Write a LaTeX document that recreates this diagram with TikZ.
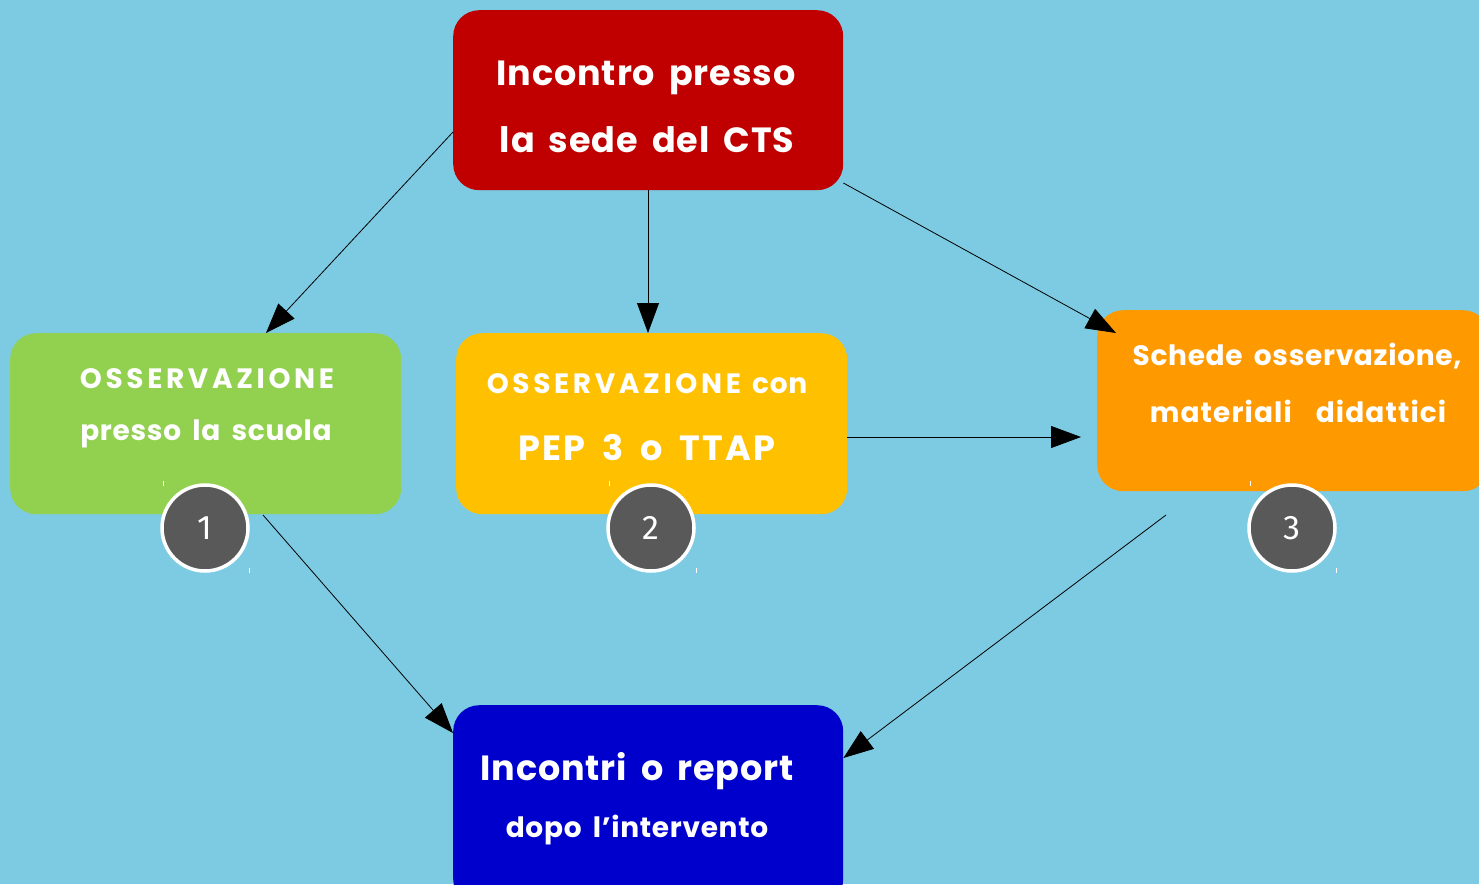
\documentclass[tikz,border=0pt]{standalone}
\usepackage{fontspec}
\setmainfont{Poppins}[LetterSpace=2.5, WordSpace=1.7]
\newfontfamily\numfont{Fira Sans}
\usetikzlibrary{arrows.meta,calc}
\definecolor{bg}{HTML}{7DCBE3}
\definecolor{cred}{HTML}{C00000}
\definecolor{cgreen}{HTML}{92D050}
\definecolor{cyellow}{HTML}{FFC000}
\definecolor{corange}{HTML}{FF9900}
\definecolor{cblue}{HTML}{0000CC}
\definecolor{cgray}{HTML}{595959}
\newcommand{\widecaps}[1]{{\addfontfeature{LetterSpace=13}#1}}
\tikzset{
  box/.style={rounded corners=26pt, draw=none, minimum width=#1, anchor=north west, inner sep=0pt},
  txt/.style={text=white, inner sep=0pt, anchor=base},
  big/.style={font=\fontsize{35}{40}\selectfont\bfseries},
  small/.style={font=\fontsize{28}{32}\selectfont\bfseries},
  badge/.style={circle, fill=cgray, draw=white, line width=3.5pt, minimum size=86pt, inner sep=0pt, text=white, font=\numfont\fontsize{34}{40}\selectfont},
  conn/.style={draw=black, line width=0.8pt, -{Triangle[length=30pt,width=22pt]}},
  tick/.style={draw=white, line width=1pt}
}
\begin{document}
\begin{tikzpicture}[x=1pt,y=-1pt]
\useasboundingbox (0,0) rectangle (1479,884);
\fill[bg] (0,0) rectangle (1479,884);
\begin{scope}
\clip (0,0) rectangle (1479,884);
% boxes
\node[box=390pt, minimum height=180pt, fill=cred] (red) at (453,10) {};
\node[box=391pt, minimum height=181pt, fill=cgreen] (green) at (10,333) {};
\node[box=391pt, minimum height=181pt, fill=cyellow] (yellow) at (456,333) {};
\node[box=392pt, minimum height=181pt, fill=corange] (orange) at (1097,310) {};
\node[box=390pt, minimum height=200pt, fill=cblue] (blue) at (453,705) {};
\end{scope}
% texts
\node[txt, big] (t1a) at (646,85) {Incontro presso};
\node[txt, big] (t1b) at (647,152) {la sede del CTS};
\node[txt, small] (t2a) at (207,388) {\widecaps{OSSERVAZIONE}};
\node[txt, small] (t2b) at (206,440) {presso la scuola};
\node[txt, small] (t3a) at (647,393) {\widecaps{OSSERVAZIONE} con};
\node[txt, big] (t3b) at (647,460) {\addfontfeature{LetterSpace=7}PEP 3 o TTAP};
\node[txt, small] (t4a) at (1297,365) {Schede osservazione,};
\node[txt, small] (t4b) at (1298,422) {\addfontfeature{LetterSpace=4}materiali\ \ didattici};
\node[txt, big] (t5a) at (637,780) {Incontri o report};
\node[txt, small] (t5b) at (637,837) {dopo l’intervento};
% badges
\node[badge] (b1) at (205,528) {1};
\node[badge] (b2) at (651,528) {2};
\node[badge] (b3) at (1292,528) {3};
% small marks
\draw[tick] (163,481) -- (163,486);
\draw[tick] (249,568) -- (249,573);
\draw[tick] (609,481) -- (609,486);
\draw[tick] (696,568) -- (696,573);
\draw[tick] (1250,481) -- (1250,486);
\draw[tick] (1336,568) -- (1336,573);
% connector end points
\coordinate (r1) at ([yshift=-122pt]red.north west);
\coordinate (r2) at ([xshift=195pt]red.south west);
\coordinate (r3) at ([yshift=-173pt]red.north east);
\coordinate (g1) at (266,333);
\coordinate (y1) at ([xshift=192pt]yellow.north west);
\coordinate (o1) at (1116,333);
\coordinate (y2) at ([yshift=-104pt]yellow.north east);
\coordinate (o2) at (1081,437);
\coordinate (g2) at (263,515);
\coordinate (bl1) at ([yshift=-28pt]blue.north west);
\coordinate (o3) at (1166,515);
\coordinate (bl2) at ([yshift=-53pt]blue.north east);
\draw[conn] (r1) -- (g1);
\draw[conn] (r2) -- (y1);
\draw[conn] (r3) -- (o1);
\draw[conn] (y2) -- (o2);
\draw[conn] (g2) -- (bl1);
\draw[conn] (o3) -- (bl2);
\end{tikzpicture}
\end{document}
